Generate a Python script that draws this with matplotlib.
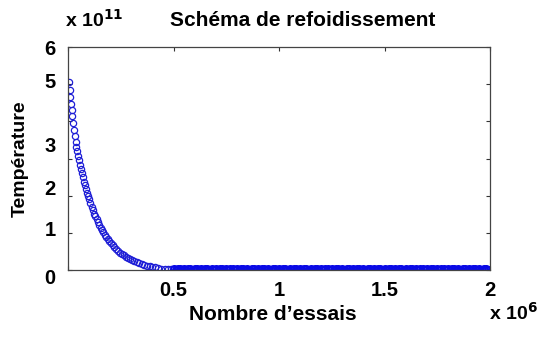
import matplotlib
matplotlib.use('Agg')
import matplotlib.pyplot as plt
from matplotlib.transforms import ScaledTranslation

# values (x in 1e6 trials, y in 1e11)
curve_x = [0.005, 0.008, 0.011, 0.014, 0.017, 0.020, 0.024, 0.028, 0.032, 0.036,
           0.040, 0.044, 0.048, 0.052, 0.056, 0.060, 0.065, 0.070, 0.075, 0.080,
           0.085, 0.090, 0.095, 0.100, 0.106, 0.112, 0.118, 0.124, 0.130, 0.136,
           0.142, 0.148, 0.154, 0.160, 0.167, 0.174, 0.181, 0.188, 0.195, 0.203,
           0.211, 0.219, 0.227, 0.236, 0.245, 0.254, 0.263, 0.273, 0.283, 0.293,
           0.303, 0.314, 0.325, 0.337, 0.349, 0.361, 0.374, 0.387, 0.400, 0.414,
           0.428, 0.443, 0.458, 0.474, 0.490]
curve_y = [5.05, 4.85, 4.65, 4.47, 4.30, 4.14, 3.95, 3.77, 3.60, 3.45,
           3.32, 3.19, 3.07, 2.95, 2.83, 2.72, 2.60, 2.49, 2.38, 2.28,
           2.18, 2.08, 1.99, 1.90, 1.80, 1.70, 1.61, 1.52, 1.44, 1.36,
           1.28, 1.21, 1.14, 1.08, 1.01, 0.95, 0.88, 0.83, 0.78, 0.72,
           0.66, 0.61, 0.56, 0.52, 0.47, 0.43, 0.40, 0.36, 0.33, 0.29,
           0.26, 0.24, 0.21, 0.19, 0.16, 0.14, 0.12, 0.10, 0.08, 0.07,
           0.05, 0.04, 0.03, 0.02, 0.02]

# the flat part near zero, dense band of markers
tail_x = [0.50, 0.51, 0.52, 0.53, 0.54, 0.55, 0.56, 0.57, 0.58, 0.59,
          0.60, 0.61, 0.62, 0.63, 0.64, 0.65, 0.66, 0.67, 0.68, 0.69,
          0.70, 0.71, 0.72, 0.73, 0.74, 0.75, 0.76, 0.77, 0.78, 0.79,
          0.80, 0.81, 0.82, 0.83, 0.84, 0.85, 0.86, 0.87, 0.88, 0.89,
          0.90, 0.91, 0.92, 0.93, 0.94, 0.95, 0.96, 0.97, 0.98, 0.99,
          1.00, 1.01, 1.02, 1.03, 1.04, 1.05, 1.06, 1.07, 1.08, 1.09,
          1.10, 1.11, 1.12, 1.13, 1.14, 1.15, 1.16, 1.17, 1.18, 1.19,
          1.20, 1.21, 1.22, 1.23, 1.24, 1.25, 1.26, 1.27, 1.28, 1.29,
          1.30, 1.31, 1.32, 1.33, 1.34, 1.35, 1.36, 1.37, 1.38, 1.39,
          1.40, 1.41, 1.42, 1.43, 1.44, 1.45, 1.46, 1.47, 1.48, 1.49,
          1.50, 1.51, 1.52, 1.53, 1.54, 1.55, 1.56, 1.57, 1.58, 1.59,
          1.60, 1.61, 1.62, 1.63, 1.64, 1.65, 1.66, 1.67, 1.68, 1.69,
          1.70, 1.71, 1.72, 1.73, 1.74, 1.75, 1.76, 1.77, 1.78, 1.79,
          1.80, 1.81, 1.82, 1.83, 1.84, 1.85, 1.86, 1.87, 1.88, 1.89,
          1.90, 1.91, 1.92, 1.93, 1.94, 1.95, 1.96, 1.97, 1.98, 1.99]
tail_y = [0.02, 0.01, 0.02, 0.02, 0.01, 0.02, 0.01, 0.02, 0.02, 0.01,
          0.02, 0.02, 0.01, 0.02, 0.01, 0.02, 0.02, 0.01, 0.02, 0.01,
          0.02, 0.01, 0.02, 0.02, 0.01, 0.02, 0.01, 0.02, 0.02, 0.01,
          0.02, 0.01, 0.02, 0.02, 0.01, 0.02, 0.01, 0.02, 0.02, 0.01,
          0.02, 0.01, 0.02, 0.02, 0.01, 0.02, 0.01, 0.02, 0.02, 0.01,
          0.02, 0.01, 0.02, 0.02, 0.01, 0.02, 0.01, 0.02, 0.02, 0.01,
          0.02, 0.01, 0.02, 0.02, 0.01, 0.02, 0.01, 0.02, 0.02, 0.01,
          0.02, 0.01, 0.02, 0.02, 0.01, 0.02, 0.01, 0.02, 0.02, 0.01,
          0.02, 0.01, 0.02, 0.02, 0.01, 0.02, 0.01, 0.02, 0.02, 0.01,
          0.02, 0.01, 0.02, 0.02, 0.01, 0.02, 0.01, 0.02, 0.02, 0.01,
          0.02, 0.01, 0.02, 0.02, 0.01, 0.02, 0.01, 0.02, 0.02, 0.01,
          0.02, 0.01, 0.02, 0.02, 0.01, 0.02, 0.01, 0.02, 0.02, 0.01,
          0.02, 0.01, 0.02, 0.02, 0.01, 0.02, 0.01, 0.02, 0.02, 0.01,
          0.02, 0.01, 0.02, 0.02, 0.01, 0.02, 0.01, 0.02, 0.02, 0.01,
          0.02, 0.01, 0.02, 0.02, 0.01, 0.02, 0.01, 0.02, 0.02, 0.01]

x_ticks = [0, 0.5, 1, 1.5, 2]
x_labels = ['', '0.5', '1', '1.5', '2']
y_ticks = [0, 1, 2, 3, 4, 5, 6]
y_labels = ['0', '1', '2', '3', '', '5', '6']

plt.rcParams['font.family'] = ['Liberation Sans', 'DejaVu Sans']
plt.rcParams['font.weight'] = 'bold'

fig = plt.figure(figsize=(5.42, 3.37), dpi=100)
ax = fig.add_axes([0.1255, 0.1988, 0.7786, 0.6617])

ax.plot(curve_x, curve_y, 'o', color='#1f1fd6',
        markerfacecolor='none', markersize=4.5, markeredgewidth=0.9)
ax.plot(tail_x, tail_y, 'o', color='#0a0ae6',
        markerfacecolor='none', markersize=5.0, markeredgewidth=1.5)

ax.set_xlim(0, 2)
ax.set_ylim(0, 6)
ax.set_xticks(x_ticks)
ax.set_xticklabels(x_labels)
ax.set_yticks(y_ticks)
ax.set_yticklabels(y_labels)
ax.tick_params(direction='in', length=3, width=0.8, top=True, right=True,
               labelsize=14.5, colors='#333333', labelcolor='black')
ax.tick_params(axis='x', pad=8)
ax.tick_params(axis='y', pad=7)
for s in ax.spines.values():
    s.set_color('#444444')
    s.set_linewidth(0.9)

# the y labels in the picture sit a little off their ticks
y_shift = [-5, 3, 6, 10, 0, 3, 0]
for lab, dy in zip(ax.get_yticklabels(), y_shift):
    lab.set_transform(lab.get_transform() + ScaledTranslation(-2 / 72, dy / 72, fig.dpi_scale_trans))

fig.text(0.558, 0.94, 'Schéma de refoidissement', ha='center', va='center',
         fontsize=15, fontweight='bold')
fig.text(0.12, 0.94, r'x 10$^{11}$', ha='left', va='center',
         fontsize=14, fontweight='bold')
fig.text(0.503, 0.068, 'Nombre d’essais', ha='center', va='center',
         fontsize=15, fontweight='bold')
fig.text(0.902, 0.072, r'x 10$^{6}$', ha='left', va='center',
         fontsize=14, fontweight='bold')
fig.text(0.037, 0.53, 'Température', ha='center', va='center',
         rotation=90, fontsize=14, fontweight='bold')

fig.savefig('out.png', dpi=100)
